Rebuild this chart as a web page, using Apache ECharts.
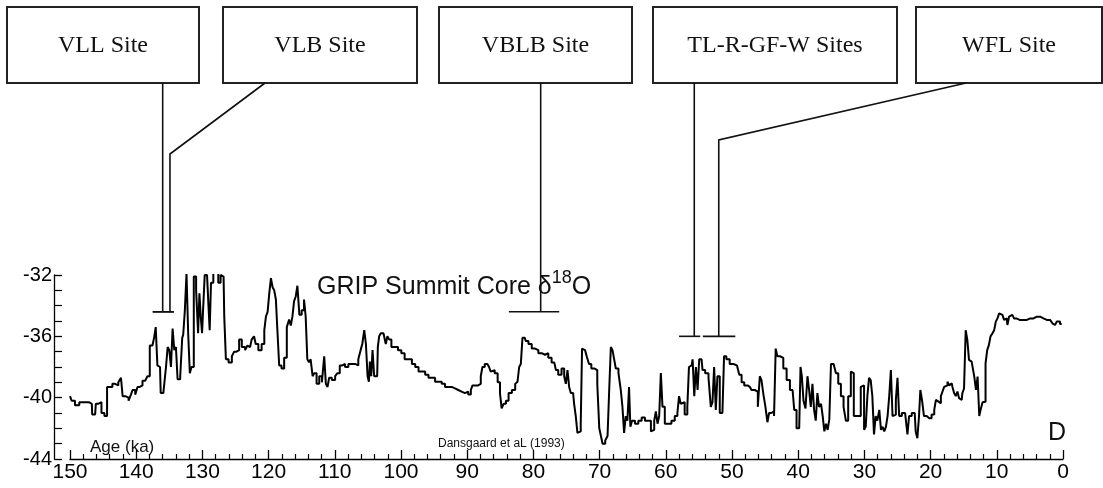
<!DOCTYPE html>
<html>
<head>
<meta charset="utf-8">
<script src="https://cdn.jsdelivr.net/npm/echarts@6/dist/echarts.min.js"></script>
<style>
  html, body { margin: 0; padding: 0; background: #fff; }
  #grip { width: 1103px; height: 488px; }
</style>
</head>
<body>
<div id="grip"></div>
<script>
// GRIP Summit core d18O, age in ka
const ageKa = [
  150.0, 149.5, 149.0, 148.2, 147.5, 146.7, 146.6, 146.2, 146.0, 145.5, 145.0, 144.6, 144.2, 144.0, 143.2, 143.0,
  142.4, 142.2, 141.9, 141.4, 140.9, 140.7, 140.4, 139.9, 139.7, 139.2, 138.9, 138.4, 138.2, 137.7, 137.4, 137.2,
  136.9, 136.7, 136.4, 136.2, 135.6, 135.4, 135.1, 134.9, 134.6, 134.4, 134.1, 133.9, 133.6, 133.1, 133.0, 132.8,
  132.5, 132.3, 132.0, 131.8, 131.5, 131.1, 130.8, 130.5, 130.4, 130.1, 130.0, 129.8, 129.5, 129.1, 129.0, 128.8,
  128.6, 128.1, 127.8, 127.4, 127.1, 126.8, 126.6, 126.3, 125.8, 125.3, 125.1, 124.6, 124.3, 123.8, 123.3, 123.1,
  122.8, 122.3, 122.1, 121.8, 121.3, 120.8, 120.5, 120.3, 120.0, 119.8, 119.5, 119.3, 119.0, 118.8, 118.5, 118.3,
  117.8, 117.5, 117.0, 116.8, 116.5, 116.3, 116.0, 115.8, 115.5,
  115.2, 114.8, 114.5, 114.3, 114.0, 113.8, 113.5, 113.2, 113.0, 112.5, 112.2, 111.7, 111.5, 111.2, 111.0, 110.7,
  110.2, 109.7, 109.5, 109.0, 108.7, 108.2, 107.7, 107.2, 106.7, 106.2, 106.0, 105.7, 105.4, 105.2, 104.9, 104.8,
  104.6, 104.4, 104.2, 103.9, 103.6, 103.4, 103.2, 102.9, 102.4, 102.2, 101.9, 101.7, 101.2, 100.7, 100.2, 99.7,
  99.2, 98.6, 98.1, 97.6, 97.1, 96.6, 96.1, 95.6, 95.1, 94.6, 94.1, 93.6, 93.1, 92.6, 92.1, 91.6,
  91.1, 90.6, 90.1, 89.6, 89.3, 89.1, 88.6, 88.1, 87.8, 87.6, 87.1, 86.8, 86.6, 86.3, 86.1, 85.6,
  85.2, 84.9, 84.7, 84.3, 84.0, 83.5, 83.0, 82.5, 82.3, 82.0, 81.8, 81.5, 81.3, 81.0, 80.5, 80.0,
  79.5, 79.0, 78.5, 78.0, 77.5, 77.0, 76.7, 76.5, 76.0, 75.5, 75.2, 75.0, 74.7, 74.5, 74.2, 74.0,
  73.7, 73.5, 73.2, 73.0, 72.7, 72.6, 72.2, 71.7, 71.5, 71.0, 70.5, 70.2, 69.9,
  69.7, 69.4, 68.9, 68.7, 68.4, 68.2, 67.9, 67.7, 67.4, 66.9, 66.7, 66.4, 66.2, 65.9, 65.7, 65.4,
  65.3, 64.9, 64.4, 63.9, 63.4, 62.9, 62.4, 62.1, 61.9, 61.6, 61.4, 61.1, 60.9, 60.6, 60.4, 59.9,
  59.4, 58.9, 58.4, 58.1, 57.9, 57.6, 57.4, 56.9, 56.6, 56.4, 56.1, 55.8, 55.6, 55.3, 55.1, 54.8,
  54.6, 54.3, 53.8, 53.3, 53.1, 52.8, 52.6, 52.3, 52.1, 51.6, 51.3, 51.1, 50.6, 50.1, 49.5, 49.0,
  48.8, 48.3, 48.0, 47.3, 46.8, 46.3, 45.9, 45.7, 45.4, 45.1, 44.8, 44.5, 44.3, 43.8, 43.5, 43.3,
  43.0, 42.5, 42.0, 41.5, 41.0, 40.7, 40.5, 40.0, 39.7, 39.6, 39.3, 39.1, 38.7, 38.5, 38.2, 38.0,
  37.7, 37.5, 37.2, 37.0, 36.7, 36.4, 36.2, 35.9, 35.7, 35.4, 35.2, 34.9, 34.4, 34.2, 33.7, 33.4,
  32.9, 32.7, 32.2, 31.9, 31.7, 31.5,
  31.3, 30.9, 30.7, 30.4, 30.2, 29.9, 29.7, 29.4, 29.2, 28.9, 28.7, 28.4, 28.2, 27.9, 27.6, 27.4,
  27.1, 26.9, 26.6, 26.4, 26.1, 25.9, 25.6, 25.4, 25.1, 24.9, 24.6, 24.1, 23.6, 23.4, 23.1, 22.6,
  22.4, 22.1, 21.9, 21.6, 21.5, 21.1, 20.9, 20.3, 20.1, 19.6, 19.3, 19.1, 18.8, 18.6, 18.3, 18.1,
  17.8, 17.6, 17.3, 17.1, 16.8, 16.6, 16.3, 16.1, 15.8, 15.6, 15.3, 15.1, 14.8, 14.6, 14.3, 14.1,
  13.8, 13.5, 13.3, 13.0, 12.8, 12.5, 12.3, 12.0, 11.8, 11.6, 11.3, 11.1, 10.8, 10.5, 10.3, 10.0,
  9.8, 9.5, 9.3, 9.0, 8.8, 8.5, 8.3, 8.0, 7.8, 7.5, 7.3, 6.8, 6.3, 5.7, 5.2, 4.7,
  4.2, 3.7, 3.2, 2.7, 2.2, 1.7, 1.5, 1.2, 0.7, 0.2
];
const d18O = [
  -39.9, -40.2, -40.5, -40.3, -40.3, -40.4, -41.1, -41.1, -40.4, -40.3, -41.0, -41.2, -39.3, -39.3, -39.1, -39.2,
  -39.0, -38.7, -39.9, -40.0, -40.2, -39.8, -39.5, -39.8, -39.3, -39.2, -38.9, -39.0, -38.6, -36.6, -36.5, -36.1,
  -35.4, -37.9, -38.0, -39.7, -39.8, -38.0, -36.7, -36.9, -38.0, -35.5, -36.9, -36.7, -38.8, -38.6, -36.1, -35.9,
  -34.3, -31.9, -35.8, -38.4, -38.0, -32.1, -33.0, -35.8, -33.2, -34.7, -35.8, -34.3, -32.0, -32.1, -34.3, -35.6,
  -32.5, -31.8, -31.9, -32.5, -32.0, -32.1, -34.7, -37.5, -37.7, -37.3, -37.0, -36.9, -36.2, -36.7, -36.9, -36.6,
  -36.7, -36.2, -36.0, -36.5, -36.9, -36.5, -35.6, -34.7, -34.4, -33.2, -32.2, -32.8, -33.0, -33.6, -35.8, -37.9,
  -38.1, -37.4, -35.4, -34.9, -35.3, -34.7, -33.7, -33.4, -32.7,
  -34.6, -34.3, -33.6, -34.7, -37.5, -37.7, -37.5, -38.6, -38.4, -39.1, -38.6, -39.0, -37.3, -39.1, -39.3, -38.7,
  -38.85, -38.6, -38.4, -37.9, -37.8, -38.0, -37.8, -37.8, -37.9, -37.5, -36.9, -36.5, -35.6, -36.5, -38.6, -38.96,
  -37.65, -38.6, -36.9, -38.6, -38.6, -36.7, -36.0, -35.8, -35.9, -36.5, -36.0, -36.2, -36.7, -36.7, -36.9, -37.1,
  -37.5, -37.5, -37.8, -38.0, -38.3, -38.3, -38.5, -38.7, -38.7, -38.96, -38.96, -39.1, -39.3, -39.3, -39.4, -39.5,
  -39.6, -39.7, -39.6, -39.8, -39.5, -39.2, -39.2, -39.1, -38.6, -38.0, -37.8, -37.9, -38.0, -38.3, -38.2, -38.4,
  -39.0, -39.7, -40.7, -40.4, -40.2, -39.7, -39.5, -39.1, -38.96, -38.0, -37.8, -36.1, -36.1, -36.3, -36.5, -36.8,
  -36.9, -37.1, -37.2, -37.1, -37.4, -37.7, -37.8, -38.2, -38.5, -38.1, -38.6, -39.1, -38.2, -39.3, -39.7, -39.7,
  -40.4, -41.2, -42.3, -42.2, -41.7, -36.8, -36.9, -37.3, -37.8, -38.1, -38.2, -39.1, -42.0,
  -42.5, -43.0, -42.8, -42.5, -39.5, -36.7, -36.9, -37.5, -38.1, -38.4, -39.5, -40.6, -42.3, -41.2, -41.5, -39.3,
  -41.9, -41.5, -41.7, -41.5, -41.3, -41.5, -41.5, -42.2, -42.1, -41.5, -40.9, -41.7, -41.2, -38.4, -40.6, -41.7,
  -41.7, -41.5, -41.2, -41.0, -39.9, -40.4, -40.3, -41.1, -40.6, -38.0, -37.9, -37.5, -39.9, -38.0, -39.5, -37.5,
  -37.5, -38.2, -38.4, -38.7, -40.6, -40.3, -38.0, -40.8, -38.6, -41.0, -41.0, -37.3, -37.5, -37.8, -37.9, -38.0,
  -38.5, -39.0, -39.2, -39.3, -39.5, -39.6, -40.6, -38.6, -38.85, -39.8, -40.6, -41.6, -41.0, -40.9, -41.2, -36.8,
  -37.3, -37.4, -38.1, -38.85, -39.5, -39.5, -40.8, -42.0, -42.1, -38.0, -38.6, -40.2, -40.7, -38.6, -39.5, -40.6,
  -39.1, -40.8, -41.5, -39.7, -40.6, -40.4, -41.2, -42.2, -41.7, -42.1, -41.4, -37.8, -37.8, -38.4, -39.1, -39.9,
  -40.6, -41.5, -39.9, -38.3, -38.4, -41.2,
  -41.2, -41.1, -41.2, -39.3, -39.2, -42.1, -41.9, -39.9, -38.7, -38.85, -39.9, -42.4, -41.2, -41.5, -40.8, -42.1,
  -41.9, -42.2, -41.9, -41.2, -39.9, -38.2, -41.2, -41.1, -40.15, -38.7, -41.2, -41.0, -41.0, -42.4, -41.2, -41.0,
  -41.0, -42.2, -42.65, -41.2, -39.5, -40.15, -41.2, -41.2, -41.35, -41.1, -40.8, -40.15, -40.26, -40.37, -39.9, -39.6,
  -39.3, -39.2, -38.96, -39.2, -39.07, -39.3, -39.7, -39.9, -39.6, -40.04, -40.15, -39.7, -39.4, -35.6, -36.24, -37.54,
  -37.65, -37.76, -38.63, -39.5, -38.63, -41.2, -40.7, -40.3, -40.26, -37.76, -36.9, -36.57, -36.0, -35.8, -35.6, -35.04,
  -34.83, -34.5, -34.6, -34.72, -34.93, -34.83, -35.26, -34.72, -34.6, -34.5, -34.83, -34.93, -34.93, -34.93, -34.83, -34.83,
  -34.72, -34.72, -34.83, -34.93, -34.93, -35.04, -35.15, -35.26, -35.04, -35.2
];

const yTicks = [-44, -40, -36, -32];

// sites marked on the core
const siteNames = ['VLL Site', 'VLB Site', 'VBLB Site', 'TL-R-GF-W Sites', 'WFL Site'];
const siteAge = [136.0, 134.9, 78.9, 55.7, 52.0];
const siteLevel = [-34.4, -34.4, -34.4, -36.0, -36.0];
const barFrom = [137.5, 137.5, 83.7, 58.0, 54.4];
const barTo = [134.3, 134.3, 76.1, 54.8, 49.5];

// label boxes along the top (pixels)
const boxLeft = [7, 223, 439, 653, 916];
const boxRight = [199, 417, 632, 897, 1102];
const boxTop = 7, boxBottom = 83;
const elbows = [null, [265, 154], null, null, [966, 140]];

const SANS = '"Liberation Sans", Arial, sans-serif';
const SERIF = '"Liberation Serif", "Times New Roman", serif';

const chart = echarts.init(document.getElementById('grip'));

const option = {
  animation: false,
  backgroundColor: '#fff',
  grid: { left: 70, right: 40, top: 275, bottom: 29 },
  xAxis: {
    type: 'value',
    min: 0,
    max: 150,
    interval: 10,
    inverse: true,
    axisLine: { onZero: false, lineStyle: { color: '#000', width: 1.3 } },
    axisTick: { inside: true, length: 9, lineStyle: { color: '#000', width: 1.3 } },
    minorTick: { show: true, splitNumber: 5, length: 5, lineStyle: { color: '#000', width: 1.2 } },
    splitLine: { show: false },
    axisLabel: { color: '#000', fontSize: 21, fontFamily: SANS, margin: 3 }
  },
  yAxis: {
    type: 'value',
    min: -44,
    max: -32,
    interval: 4,
    offset: 16,
    position: 'left',
    axisLine: { show: true, onZero: false, lineStyle: { color: '#000', width: 1.3 } },
    axisTick: { inside: true, length: 8, lineStyle: { color: '#000', width: 1.3 } },
    minorTick: { show: true, splitNumber: 4, length: 8, lineStyle: { color: '#000', width: 1.2 } },
    splitLine: { show: false },
    axisLabel: { color: '#000', fontSize: 20, fontFamily: SANS, margin: 2,
      formatter: v => (yTicks.includes(v) ? String(v) : '') }
  },
  series: [{
    type: 'line',
    data: ageKa.map((a, i) => [a, d18O[i]]),
    step: 'middle',
    showSymbol: false,
    lineStyle: { color: '#000', width: 2 },
    z: 3
  }]
};
chart.setOption(option);

const graphics = [];
for (let i = 0; i < siteNames.length; i++) {
  // label box
  graphics.push({
    type: 'rect',
    shape: { x: boxLeft[i], y: boxTop, width: boxRight[i] - boxLeft[i], height: boxBottom - boxTop },
    style: { fill: '#fff', stroke: '#222', lineWidth: 2 }
  });
  graphics.push({
    type: 'text',
    x: (boxLeft[i] + boxRight[i]) / 2,
    y: (boxTop + boxBottom) / 2 + 1,
    style: { text: siteNames[i], fill: '#111', font: '24px ' + SERIF, align: 'center', verticalAlign: 'middle' }
  });
  // connector from the core position up to the box
  const p = chart.convertToPixel({ gridIndex: 0 }, [siteAge[i], siteLevel[i]]);
  const pts = [[p[0], p[1]]];
  if (elbows[i]) {
    pts.push([p[0], elbows[i][1]], [elbows[i][0], boxBottom]);
  } else {
    pts.push([p[0], boxBottom]);
  }
  graphics.push({ type: 'polyline', shape: { points: pts }, style: { stroke: '#111', lineWidth: 1.6, fill: null } });
  const b0 = chart.convertToPixel({ gridIndex: 0 }, [barFrom[i], siteLevel[i]]);
  const b1 = chart.convertToPixel({ gridIndex: 0 }, [barTo[i], siteLevel[i]]);
  graphics.push({ type: 'line', shape: { x1: b0[0], y1: b0[1], x2: b1[0], y2: b1[1] }, style: { stroke: '#111', lineWidth: 1.6 } });
}

// in-plot labels
graphics.push({
  type: 'text', x: 317, y: 300,
  style: {
    text: '{a|GRIP Summit Core }{a|δ}{b|18}{a|O}',
    verticalAlign: 'bottom',
    rich: {
      a: { font: '25px ' + SANS, fill: '#111', lineHeight: 31, verticalAlign: 'bottom' },
      b: { font: '18px ' + SANS, fill: '#111', lineHeight: 31, verticalAlign: 'top' }
    }
  }
});
graphics.push({ type: 'text', x: 90, y: 456, style: { text: 'Age (ka)', font: '17px ' + SANS, fill: '#111', verticalAlign: 'bottom' } });
graphics.push({ type: 'text', x: 438, y: 450, style: { text: 'Dansgaard et aL (1993)', font: '12px ' + SANS, fill: '#111', verticalAlign: 'bottom' } });
graphics.push({ type: 'text', x: 1048, y: 446, style: { text: 'D', font: '25px ' + SANS, fill: '#111', verticalAlign: 'bottom' } });

chart.setOption({ graphic: graphics });
</script>
</body>
</html>
